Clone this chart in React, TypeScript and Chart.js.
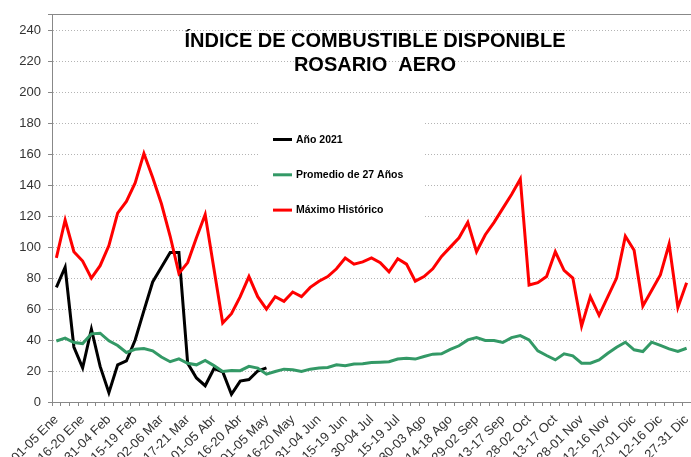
import React, { useEffect, useRef } from "react";
import { Chart, registerables } from "chart.js";

Chart.register(...registerables);

const TITLE_LINES = ["ÍNDICE DE COMBUSTIBLE DISPONIBLE", "ROSARIO  AERO"];

const CATEGORIES = [
  "01-05 Ene", "06-10 Ene", "11-15 Ene", "16-20 Ene", "21-25 Ene", "26-30 Ene",
  "31-04 Feb", "05-09 Feb", "10-14 Feb", "15-19 Feb", "20-24 Feb", "25-01 Mar",
  "02-06 Mar", "07-11 Mar", "12-16 Mar", "17-21 Mar", "22-26 Mar", "27-31 Mar",
  "01-05 Abr", "06-10 Abr", "11-15 Abr", "16-20 Abr", "21-25 Abr", "26-30 Abr",
  "01-05 May", "06-10 May", "11-15 May", "16-20 May", "21-25 May", "26-30 May",
  "31-04 Jun", "05-09 Jun", "10-14 Jun", "15-19 Jun", "20-24 Jun", "25-29 Jun",
  "30-04 Jul", "05-09 Jul", "10-14 Jul", "15-19 Jul", "20-24 Jul", "25-29 Jul",
  "30-03 Ago", "04-08 Ago", "09-13 Ago", "14-18 Ago", "19-23 Ago", "24-28 Ago",
  "29-02 Sep", "03-07 Sep", "08-12 Sep", "13-17 Sep", "18-22 Sep", "23-27 Sep",
  "28-02 Oct", "03-07 Oct", "08-12 Oct", "13-17 Oct", "18-22 Oct", "23-27 Oct",
  "28-01 Nov", "02-06 Nov", "07-11 Nov", "12-16 Nov", "17-21 Nov", "22-26 Nov",
  "27-01 Dic", "02-06 Dic", "07-11 Dic", "12-16 Dic", "17-21 Dic", "22-26 Dic",
  "27-31 Dic",
];

const ANIO_2021 = [
  74, 87, 35.5, 22, 47, 23, 6, 24, 26.5, 40, 59, 77.5, 87, 96.5, 96.5, 25,
  15.5, 10.5, 21.5, 19.5, 5, 13.5, 14.5, 20, 22,
];

const PROMEDIO_27 = [
  39.4, 41.2, 38.4, 37.7, 44, 44.4, 39.5, 36.5, 32, 34, 34.5, 33, 29, 26, 27.8, 25,
  24, 26.8, 23.5, 19.7, 20.4, 20.2, 23, 21.9, 18, 19.7, 21.2, 20.8, 19.7, 21.2,
  21.9, 22.3, 24, 23.4, 24.5, 24.7, 25.5, 25.7, 26, 27.7, 28.3, 27.7, 29.4, 30.9,
  31.1, 34, 36.3, 40.1, 41.6, 39.7, 39.7, 38.4, 41.6, 42.9, 40.1, 33, 30, 27.2,
  31.1, 29.8, 25.1, 25.1, 27.2, 31.5, 35.4, 38.6, 33.7, 32.6, 38.6, 36.5, 34.3,
  32.6, 34.7,
];

const MAXIMO = [
  93, 117.5, 97, 91, 80, 88, 101, 122, 129.5, 141.5, 160.5, 145, 128, 107, 83, 90,
  106, 121, 86, 51, 57, 68, 81, 68, 60, 68, 65, 71, 68, 74, 78, 81, 86, 93, 89,
  90.5, 93, 90, 84, 92.5, 89, 78, 81, 86, 94, 100, 106, 116, 97, 108, 116, 125,
  134, 144, 75.5, 77, 81, 97, 85, 80, 49, 68, 56, 68, 80, 107, 98, 62, 72, 82,
  102, 61, 77,
];

const SERIES_NAMES = ["Año 2021", "Promedio de 27 Años", "Máximo Histórico"];
const SERIES_COLORS = ["#000000", "#339966", "#ff0000"];

const FONT = "'Liberation Sans', Arial, sans-serif";

const overlayPlugin = {
  id: "overlay",
  beforeDatasetsDraw(chart: any) {
    const ctx = chart.ctx;
    ctx.save();
    ctx.fillStyle = "#ffffff";
    ctx.fillRect(258, 110, 165, 122);
    ctx.font = `bold 10.5px ${FONT}`;
    ctx.textBaseline = "middle";
    ctx.textAlign = "left";
    SERIES_NAMES.forEach((name, i) => {
      const y = 139.5 + i * 35.3;
      ctx.strokeStyle = SERIES_COLORS[i];
      ctx.lineWidth = 3;
      ctx.beginPath();
      ctx.moveTo(273, y);
      ctx.lineTo(292, y);
      ctx.stroke();
      ctx.fillStyle = "#000000";
      ctx.fillText(name, 296, y + 0.5);
    });
    ctx.restore();
  },
  afterDraw(chart: any) {
    const ctx = chart.ctx;
    ctx.save();
    ctx.font = `bold 20px ${FONT}`;
    ctx.fillStyle = "#000000";
    ctx.textAlign = "center";
    ctx.textBaseline = "middle";
    ctx.fillText(TITLE_LINES[0], 375, 41);
    ctx.fillText(TITLE_LINES[1], 375, 65);
    ctx.restore();
  },
};

export default function App() {
  const ref = useRef<HTMLCanvasElement | null>(null);

  useEffect(() => {
    if (!ref.current) return;
    const chart = new Chart(ref.current, {
      type: "line",
      data: {
        labels: CATEGORIES,
        datasets: [
          {
            label: SERIES_NAMES[0],
            data: ANIO_2021,
            borderColor: SERIES_COLORS[0],
            backgroundColor: SERIES_COLORS[0],
            borderWidth: 3,
            pointRadius: 0,
            tension: 0,
            order: 3,
          },
          {
            label: SERIES_NAMES[1],
            data: PROMEDIO_27,
            borderColor: SERIES_COLORS[1],
            backgroundColor: SERIES_COLORS[1],
            borderWidth: 3,
            pointRadius: 0,
            tension: 0,
            order: 2,
          },
          {
            label: SERIES_NAMES[2],
            data: MAXIMO,
            borderColor: SERIES_COLORS[2],
            backgroundColor: SERIES_COLORS[2],
            borderWidth: 3,
            pointRadius: 0,
            tension: 0,
            order: 1,
          },
        ],
      },
      options: {
        responsive: false,
        animation: false,
        layout: { padding: { top: 13, left: 0, right: 0, bottom: 0 } },
        plugins: {
          legend: { display: false },
          title: { display: false },
          tooltip: { enabled: false },
        },
        scales: {
          x: {
            type: "category",
            offset: true,
            grid: {
              offset: true,
              drawOnChartArea: false,
              drawTicks: true,
              tickLength: 4,
              color: "#888888",
              tickColor: "#888888",
            },
            border: { color: "#888888", width: 1 },
            ticks: {
              autoSkip: false,
              minRotation: 45,
              maxRotation: 45,
              padding: 6,
              color: "#333333",
              font: { family: FONT, size: 13 },
              callback: (_v: any, i: number) => (i % 3 === 0 ? CATEGORIES[i] : ""),
            },
            afterFit: (s: any) => {
              s.height = 55;
              s.paddingLeft = 0;
              s.paddingRight = 0;
            },
          },
          y: {
            min: 0,
            max: 250,
            grid: {
              drawTicks: true,
              tickLength: 4,
              color: (c: any) => (c.tick && c.tick.value === 250 ? "#888888" : "#b4b4b4"),
              tickColor: "#888888",
            },
            border: {
              color: "#888888",
              width: 1,
              dash: (c: any) => (c.tick && c.tick.value === 250 ? [] : [1, 2]),
            },
            ticks: {
              stepSize: 20,
              padding: 7,
              color: "#333333",
              font: { family: FONT, size: 13 },
              callback: (v: any) => (Number(v) % 20 === 0 ? String(v) : ""),
            },
            afterFit: (s: any) => {
              s.width = 52;
            },
          },
        },
      },
      plugins: [overlayPlugin],
    });
    return () => chart.destroy();
  }, []);

  return (
    <div style={{ position: "fixed", left: 0, top: 0, width: 691, height: 457, background: "#ffffff" }}>
      <canvas ref={ref} width={691} height={457} style={{ display: "block" }} />
    </div>
  );
}
